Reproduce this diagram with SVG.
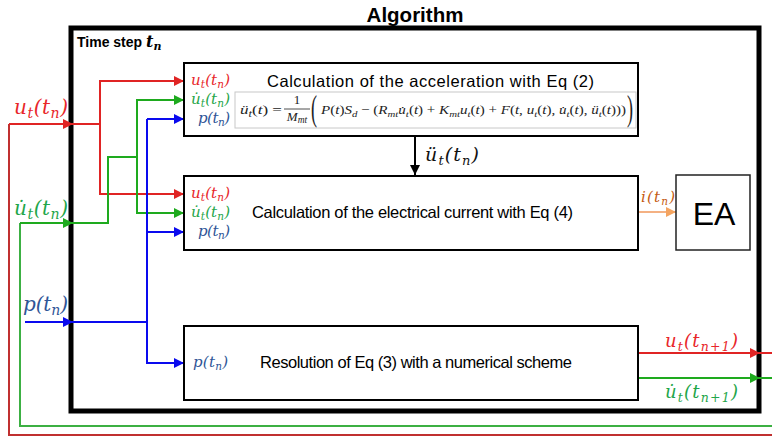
<svg xmlns="http://www.w3.org/2000/svg" width="772" height="436" viewBox="0 0 772 436">
<style>
.box{fill:#fff;stroke:#000;stroke-width:2}
.frame{fill:none;stroke:#000;stroke-width:5}
.t{font-family:"Liberation Sans",Arial,sans-serif;fill:#000}
.m{font-family:"DejaVu Serif",serif;font-style:italic}
.eq{font-family:"Liberation Serif","Times New Roman",serif;fill:#222}
.red{fill:#E8262A}.grn{fill:#1FA64A}.blu{fill:#2F5597}
.c{fill:none;stroke-width:2}
.cr{stroke:#E02424}.cg{stroke:#1EAA1E}.cb{stroke:#0A0AEE}
</style>
<defs>
<marker id="ar" viewBox="0 0 10 10" refX="10" refY="5" markerWidth="5" markerHeight="5" orient="auto" markerUnits="strokeWidth"><path d="M0,0L10,5L0,10z" fill="#E02424"/></marker>
<marker id="ag" viewBox="0 0 10 10" refX="10" refY="5" markerWidth="5" markerHeight="5" orient="auto" markerUnits="strokeWidth"><path d="M0,0L10,5L0,10z" fill="#1EAA1E"/></marker>
<marker id="ab" viewBox="0 0 10 10" refX="10" refY="5" markerWidth="5" markerHeight="5" orient="auto" markerUnits="strokeWidth"><path d="M0,0L10,5L0,10z" fill="#0A0AEE"/></marker>
<marker id="ak" viewBox="0 0 10 10" refX="10" refY="5" markerWidth="5" markerHeight="5" orient="auto" markerUnits="strokeWidth"><path d="M0,0L10,5L0,10z" fill="#000"/></marker>
<marker id="ao" viewBox="0 0 10 10" refX="10" refY="5" markerWidth="5" markerHeight="5" orient="auto" markerUnits="strokeWidth"><path d="M0,0L10,5L0,10z" fill="#F4A460"/></marker>
</defs>

<text class="t" x="415" y="22" font-size="20.5" font-weight="bold" text-anchor="middle">Algorithm</text>

<g id="frame">
<rect class="frame" x="71" y="28" width="688" height="383"/>
<text class="t" x="77" y="47" font-size="14" font-weight="bold">Time step <tspan class="m" font-size="16">t</tspan><tspan class="m" font-size="11" dy="3">n</tspan></text>
</g>

<g id="connectors">
<path class="c" stroke="#C03030" d="M772,435 H9 V124"/>
<path class="c cr" d="M9,124 H73" marker-end="url(#ar)"/>
<path class="c cr" d="M71,124 H100 V81 H184" marker-end="url(#ar)"/>
<path class="c cr" d="M100,124 V194 H184" marker-end="url(#ar)"/>
<path class="c cr" d="M638,353 H760" marker-end="url(#ar)"/>
<path class="c cr" d="M758,353 H772"/>
<path class="c" stroke="#3CB043" d="M772,426 H20 V223"/>
<path class="c cg" d="M20,223 H73" marker-end="url(#ag)"/>
<path class="c cg" d="M71,223 H108 V157 H137 V100 H184" marker-end="url(#ag)"/>
<path class="c cg" d="M137,157 V213 H184" marker-end="url(#ag)"/>
<path class="c cg" d="M638,378 H760" marker-end="url(#ag)"/>
<path class="c cg" d="M758,378 H772"/>
<path class="c cb" d="M25,322 H73" marker-end="url(#ab)"/>
<path class="c cb" d="M71,322 H147"/>
<path class="c cb" d="M147,119 H184" marker-end="url(#ab)"/>
<path class="c cb" d="M147,119 V363 H184" marker-end="url(#ab)"/>
<path class="c cb" d="M147,232 H184" marker-end="url(#ab)"/>
<path class="c" stroke="#000" stroke-width="1.5" d="M415,137 V175" marker-end="url(#ak)"/>
<path class="c" stroke="#F4B183" d="M638,212 H676" marker-end="url(#ao)"/>
</g>

<g id="labels">
<text class="m red" x="14" y="114" font-size="20" textLength="54">u<tspan font-size="14" dy="4">t</tspan><tspan dy="-4">(t</tspan><tspan font-size="14" dy="4">n</tspan><tspan dy="-4">)</tspan></text>
<text class="m grn" x="14" y="215" font-size="20" textLength="54">u̇<tspan font-size="14" dy="4">t</tspan><tspan dy="-4">(t</tspan><tspan font-size="14" dy="4">n</tspan><tspan dy="-4">)</tspan></text>
<text class="m blu" x="23" y="311" font-size="20" textLength="45">p(t<tspan font-size="14" dy="4">n</tspan><tspan dy="-4">)</tspan></text>
<text class="m" x="425" y="161" font-size="19" fill="#111" textLength="54">ü<tspan font-size="13" dy="4">t</tspan><tspan dy="-4">(t</tspan><tspan font-size="13" dy="4">n</tspan><tspan dy="-4">)</tspan></text>
<text class="m" x="641" y="202" font-size="15" fill="#C55A11" textLength="34">i(t<tspan font-size="10.5" dy="3">n</tspan><tspan dy="-3">)</tspan></text>
<text class="m red" x="665" y="347" font-size="18" textLength="73">u<tspan font-size="12.5" dy="4">t</tspan><tspan dy="-4">(t</tspan><tspan font-size="12.5" dy="4">n+1</tspan><tspan dy="-4">)</tspan></text>
<text class="m grn" x="665" y="398" font-size="18" textLength="73">u̇<tspan font-size="12.5" dy="4">t</tspan><tspan dy="-4">(t</tspan><tspan font-size="12.5" dy="4">n+1</tspan><tspan dy="-4">)</tspan></text>
</g>

<g id="box1">
<rect class="box" x="184" y="63" width="454" height="73"/>
<text class="t" x="267" y="87" font-size="16.5" textLength="327">Calculation of the acceleration with Eq (2)</text>
<text class="m red" x="191" y="85" font-size="15" textLength="39">u<tspan font-size="10.5" dy="3">t</tspan><tspan dy="-3">(t</tspan><tspan font-size="10.5" dy="3">n</tspan><tspan dy="-3">)</tspan></text>
<text class="m grn" x="191" y="104" font-size="15" textLength="39">u̇<tspan font-size="10.5" dy="3">t</tspan><tspan dy="-3">(t</tspan><tspan font-size="10.5" dy="3">n</tspan><tspan dy="-3">)</tspan></text>
<text class="m blu" x="198" y="123" font-size="15" textLength="32">p(t<tspan font-size="10.5" dy="3">n</tspan><tspan dy="-3">)</tspan></text>
<rect x="235" y="92" width="401" height="36" fill="#fff" stroke="#C8C8C8" stroke-width="1"/>
<text class="eq" x="240" y="114" font-size="13" font-style="italic" textLength="42" lengthAdjust="spacingAndGlyphs">ü<tspan font-size="9.5" dy="3">t</tspan><tspan dy="-3" font-style="normal">(</tspan><tspan>t</tspan><tspan font-style="normal">) =</tspan></text>
<text class="eq" x="297" y="104" font-size="13" text-anchor="middle">1</text>
<line x1="284" y1="109" x2="310" y2="109" stroke="#222" stroke-width="0.8"/>
<text class="eq" x="297" y="121" font-size="13" font-style="italic" text-anchor="middle">M<tspan font-size="9.5" dy="2">mt</tspan></text>
<text class="eq" transform="translate(311,120) scale(0.5,1)" font-size="36">(</text>
<text class="eq" x="321" y="114" font-size="12.5" font-style="italic" textLength="305" lengthAdjust="spacingAndGlyphs">P<tspan font-style="normal">(</tspan>t<tspan font-style="normal">)</tspan>S<tspan font-size="9" dy="3">d</tspan><tspan dy="-3" font-style="normal"> − (</tspan>R<tspan font-size="9" dy="3">mt</tspan><tspan dy="-3">u̇</tspan><tspan font-size="9" dy="3">t</tspan><tspan dy="-3" font-style="normal">(</tspan>t<tspan font-style="normal">) + </tspan>K<tspan font-size="9" dy="3">mt</tspan><tspan dy="-3">u</tspan><tspan font-size="9" dy="3">t</tspan><tspan dy="-3" font-style="normal">(</tspan>t<tspan font-style="normal">) + </tspan>F<tspan font-style="normal">(</tspan>t<tspan font-style="normal">, </tspan>u<tspan font-size="9" dy="3">t</tspan><tspan dy="-3" font-style="normal">(</tspan>t<tspan font-style="normal">), </tspan>u̇<tspan font-size="9" dy="3">t</tspan><tspan dy="-3" font-style="normal">(</tspan>t<tspan font-style="normal">), </tspan>ü<tspan font-size="9" dy="3">t</tspan><tspan dy="-3" font-style="normal">(</tspan>t<tspan font-style="normal">)))</tspan></text>
<text class="eq" transform="translate(627,120) scale(0.5,1)" font-size="36">)</text>
</g>

<g id="box2">
<rect class="box" x="184" y="176" width="454" height="74"/>
<text class="t" x="252" y="218" font-size="16.5" textLength="321">Calculation of the electrical current with Eq (4)</text>
<text class="m red" x="191" y="198" font-size="15" textLength="39">u<tspan font-size="10.5" dy="3">t</tspan><tspan dy="-3">(t</tspan><tspan font-size="10.5" dy="3">n</tspan><tspan dy="-3">)</tspan></text>
<text class="m grn" x="191" y="217" font-size="15" textLength="39">u̇<tspan font-size="10.5" dy="3">t</tspan><tspan dy="-3">(t</tspan><tspan font-size="10.5" dy="3">n</tspan><tspan dy="-3">)</tspan></text>
<text class="m blu" x="198" y="236" font-size="15" textLength="32">p(t<tspan font-size="10.5" dy="3">n</tspan><tspan dy="-3">)</tspan></text>
</g>

<g id="box3">
<rect class="box" x="184" y="326" width="454" height="74"/>
<text class="t" x="260" y="368" font-size="16.5" textLength="312">Resolution of Eq (3) with a numerical scheme</text>
<text class="m blu" x="193" y="367" font-size="15" textLength="35">p(t<tspan font-size="10.5" dy="3">n</tspan><tspan dy="-3">)</tspan></text>
</g>

<g id="ea">
<rect x="676" y="175" width="74" height="75" fill="#fff" stroke="#222" stroke-width="1.5"/>
<text class="t" x="714" y="225" font-size="32" text-anchor="middle">EA</text>
</g>
</svg>
